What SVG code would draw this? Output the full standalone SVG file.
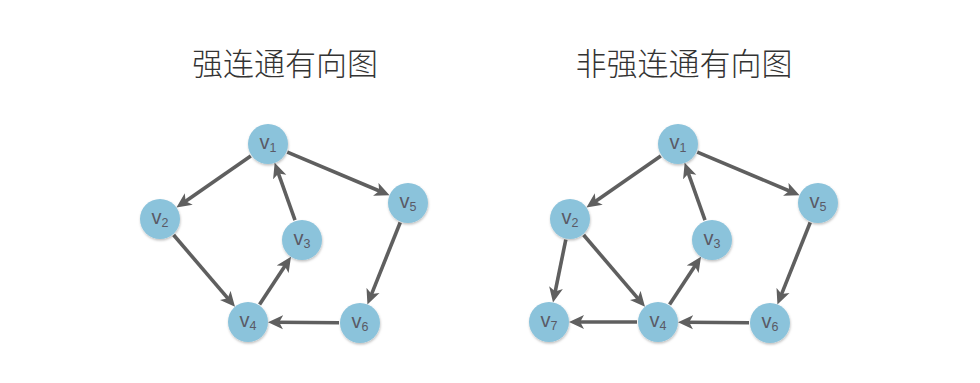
<svg xmlns="http://www.w3.org/2000/svg" width="980" height="383" viewBox="0 0 980 383">
<defs>
<marker id="ah" markerUnits="userSpaceOnUse" markerWidth="17" markerHeight="15" refX="6" refY="7" orient="auto" viewBox="0 0 17 14">
<path d="M0,0 L15,7 L0,14 L3.8,7 Z" fill="#5f5f5f"/>
</marker>
<filter id="sh" x="-30%" y="-30%" width="160%" height="160%">
<feDropShadow dx="0.5" dy="1.5" stdDeviation="1.2" flood-color="#000" flood-opacity="0.25"/>
</filter>
</defs>
<style>
.title{font-family:"Noto Sans CJK SC","Noto Sans",sans-serif;font-size:31px;font-weight:300;fill:#333;text-anchor:middle}
.edge{stroke:#5f5f5f;stroke-width:3.6;fill:none;marker-end:url(#ah)}
.node circle{fill:#8bc3db;filter:url(#sh)}
.node text{font-family:"Liberation Sans",Arial,sans-serif;font-size:20px;fill:#5a5a66;text-anchor:middle}
.node tspan{font-size:12.5px}
</style>
<rect width="980" height="383" fill="#fff"/>
<text class="title" x="285" y="75">强连通有向图</text>
<text class="title" x="684" y="75">非强连通有向图</text>
<g id="connectors">
<line class="edge" x1="250.75" y1="155.98" x2="183.82" y2="202.46"/>
<line class="edge" x1="287.35" y1="152.16" x2="381.28" y2="191.73"/>
<line class="edge" x1="294.99" y1="220.20" x2="277.68" y2="171.34"/>
<line class="edge" x1="173.64" y1="234.97" x2="229.16" y2="299.95"/>
<line class="edge" x1="259.55" y1="304.46" x2="286.05" y2="264.22"/>
<line class="edge" x1="400.20" y1="222.50" x2="370.77" y2="296.07"/>
<line class="edge" x1="339" y1="322.8" x2="277" y2="322.3"/>
<line class="edge" x1="660.75" y1="155.98" x2="593.82" y2="202.46"/>
<line class="edge" x1="697.35" y1="152.16" x2="791.28" y2="191.73"/>
<line class="edge" x1="704.99" y1="220.20" x2="687.68" y2="171.34"/>
<line class="edge" x1="583.64" y1="234.97" x2="639.16" y2="299.95"/>
<line class="edge" x1="669.55" y1="304.46" x2="696.05" y2="264.22"/>
<line class="edge" x1="810.20" y1="222.50" x2="780.77" y2="296.07"/>
<line class="edge" x1="749" y1="322.8" x2="687" y2="322.3"/>
<line class="edge" x1="565.80" y1="239.58" x2="554.80" y2="293.58"/>
<line class="edge" x1="637" y1="322" x2="578" y2="322"/>
</g>
<g id="L-v1" class="node"><circle cx="268" cy="144" r="20"/><text x="268" y="149">v<tspan dy="2.5">1</tspan></text></g>
<g id="L-v2" class="node"><circle cx="160" cy="219" r="20"/><text x="160" y="224">v<tspan dy="2.5">2</tspan></text></g>
<g id="L-v3" class="node"><circle cx="302" cy="240" r="20"/><text x="302" y="245">v<tspan dy="2.5">3</tspan></text></g>
<g id="L-v4" class="node"><circle cx="248" cy="322" r="20"/><text x="248" y="327">v<tspan dy="2.5">4</tspan></text></g>
<g id="L-v5" class="node"><circle cx="408" cy="203" r="20"/><text x="408" y="208">v<tspan dy="2.5">5</tspan></text></g>
<g id="L-v6" class="node"><circle cx="360" cy="323" r="20"/><text x="360" y="328">v<tspan dy="2.5">6</tspan></text></g>
<g id="R-v1" class="node"><circle cx="678" cy="144" r="20"/><text x="678" y="149">v<tspan dy="2.5">1</tspan></text></g>
<g id="R-v2" class="node"><circle cx="570" cy="219" r="20"/><text x="570" y="224">v<tspan dy="2.5">2</tspan></text></g>
<g id="R-v3" class="node"><circle cx="712" cy="240" r="20"/><text x="712" y="245">v<tspan dy="2.5">3</tspan></text></g>
<g id="R-v4" class="node"><circle cx="658" cy="322" r="20"/><text x="658" y="327">v<tspan dy="2.5">4</tspan></text></g>
<g id="R-v5" class="node"><circle cx="818" cy="203" r="20"/><text x="818" y="208">v<tspan dy="2.5">5</tspan></text></g>
<g id="R-v6" class="node"><circle cx="770" cy="323" r="20"/><text x="770" y="328">v<tspan dy="2.5">6</tspan></text></g>
<g id="R-v7" class="node"><circle cx="549" cy="322" r="20"/><text x="549" y="327">v<tspan dy="2.5">7</tspan></text></g>
</svg>
